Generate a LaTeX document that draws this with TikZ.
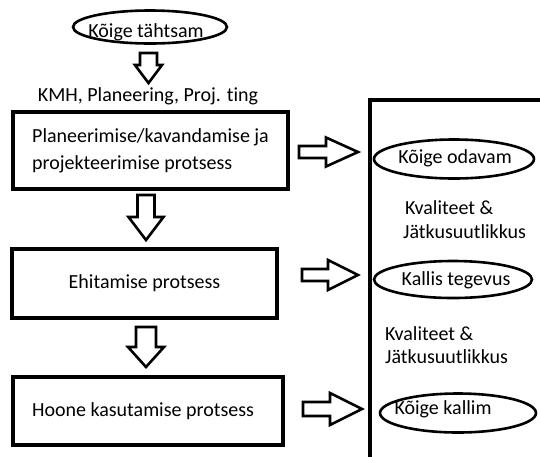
\documentclass[tikz,border=0pt]{standalone}
\usepackage{fontspec}
\setmainfont{Carlito}[Ligatures=NoCommon]
\newcommand\blkdown[6]{% cx, top, headstart, tip, shaftw, headw
  \draw[blk] ({#1-#5/2},#2) -- ({#1+#5/2},#2) -- ({#1+#5/2},#3) -- ({#1+#6/2},#3)
    -- (#1,#4) -- ({#1-#6/2},#3) -- ({#1-#5/2},#3) -- cycle;}
\newcommand\blkright[6]{% cy, left, headstart, tip, shafth, headh
  \draw[blk] (#2,{#1-#5/2}) -- (#3,{#1-#5/2}) -- (#3,{#1-#6/2}) -- (#4,#1)
    -- (#3,{#1+#6/2}) -- (#3,{#1+#5/2}) -- (#2,{#1+#5/2}) -- cycle;}
\begin{document}
\begin{tikzpicture}[x=1pt,y=-1pt,
  txt/.style={font=\fontsize{20}{24}\selectfont},
  ovalline/.style={draw,line width=2.6pt},
  procbox/.style={rectangle,draw,line width=3.2pt,inner sep=0pt,align=left,txt},
  lbl/.style={inner sep=0pt,align=left,txt},
  blk/.style={draw,line width=2.6pt,line join=miter}]
\useasboundingbox[fill=white] (0,0) rectangle (540,456);

% left column
\draw[ovalline] (150,27) ellipse [x radius=77pt, y radius=16.5pt];
\node[lbl,anchor=base] (top) at (146,37) {Kõige tähtsam};
\node[lbl,anchor=base] (kmh) at (148,101) {KMH, Planeering, Proj. ting};
\node[procbox,minimum width=275pt,minimum height=77pt,font=\fontsize{20}{27}\selectfont] (p1) at (150.5,150.5)
  {Planeerimise/kavandamise ja\\projekteerimise protsess};
\node[procbox,minimum width=265pt,minimum height=69pt] (p2) at (144.5,283.5) {Ehitamise protsess};
\node[procbox,minimum width=270pt,minimum height=68pt] (p3) at (148,411)
  {\hspace*{-10pt}Hoone kasutamise protsess};

% block arrows
\blkdown{148.5}{53}{65}{83}{17}{27}
\blkdown{146}{195}{217}{240}{17}{35}
\blkdown{146}{327}{347}{367}{20}{36}
\blkright{152}{299}{326}{358}{12}{29}
\blkright{275}{302}{328}{358}{12}{30}
\blkright{409}{303}{330}{362}{14}{32}

% right panel
\draw[line width=3.2pt] (370,457) -- (370,100) -- (541,100);
\draw[ovalline] (454,159) ellipse [x radius=80pt, y radius=19.5pt];
\node[lbl,anchor=base] (c1) at (455,163) {Kõige odavam};
\node[lbl,anchor=west] (q1) at (403,220) {\hspace*{2pt}Kvaliteet \&\\Jätkusuutlikkus};
\draw[ovalline] (453,279.5) ellipse [x radius=79pt, y radius=18.5pt];
\node[lbl,anchor=base] (c2) at (456,285) {Kallis tegevus};
\node[lbl,anchor=west,font=\fontsize{20}{23.5}\selectfont] (q2) at (385,345) {Kvaliteet \&\\Jätkusuutlikkus};
\draw[ovalline] (458,413) ellipse [x radius=78pt, y radius=19.5pt];
\node[lbl,anchor=base] (c3) at (443,414) {Kõige kallim};
\end{tikzpicture}
\end{document}
